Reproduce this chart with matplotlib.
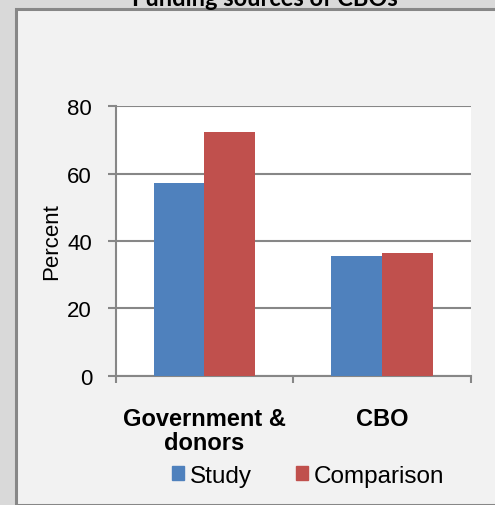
import matplotlib.pyplot as plt
import matplotlib.patches as mpatches
import numpy as np

categories = ['Government &\ndonors', 'CBO']
series_names = ['Study', 'Comparison']
study = [57.1, 35.6]
comparison = [72.5, 36.3]
y_ticks = [0, 20, 40, 60, 80]
title = 'Funding sources of CBOs'

W, H = 495, 506
fig = plt.figure(figsize=(W / 100, H / 100), dpi=100)
fig.patch.set_facecolor('#d9d9d9')

# inner chart area with border
panel = mpatches.Rectangle((15.5 / W, 0), 1.0, (H - 9.5) / H, transform=fig.transFigure,
                           facecolor='#f2f2f2', edgecolor='#878787', linewidth=2.2,
                           zorder=-5)
fig.patches.append(panel)

# title is clipped by the top edge, as in the original export
fig.text(265 / W, 1 + 1 / H, title, ha='center', va='center', fontsize=17,
         fontweight='bold', family='Lato')

ax = fig.add_axes([115.7 / W, 1 - 376.7 / H, 355 / W, 269.4 / H])
ax.set_facecolor('white')

colors = ['#4f81bd', '#c0504d']
bw = 0.285
x = np.arange(len(categories)) + 0.5
ax.bar(x - bw / 2, study, width=bw, color=colors[0], label=series_names[0], zorder=3)
ax.bar(x + bw / 2, comparison, width=bw, color=colors[1], label=series_names[1], zorder=3)

ax.set_xlim(0, len(categories))
ax.set_ylim(0, 80)
ax.set_yticks(y_ticks)
ax.set_yticklabels([str(t) for t in y_ticks], fontsize=16, family='Liberation Sans')
ax.set_xticks(np.arange(len(categories) + 1))
ax.set_xticklabels([])
ax.yaxis.grid(True, color='#878787', linewidth=1.5, zorder=1)
ax.set_axisbelow(True)

for s in ['top', 'right']:
    ax.spines[s].set_visible(False)
for s in ['left', 'bottom']:
    ax.spines[s].set_color('#878787')
    ax.spines[s].set_linewidth(1.5)
ax.tick_params(axis='y', length=6, width=1.5, color='#878787', pad=11)
ax.tick_params(axis='x', length=5, width=1.5, color='#878787')

ax.set_ylabel('Percent', fontsize=16, family='Liberation Sans')
ax.yaxis.set_label_coords(-0.151, 0.5)

for xi, lab in zip(x, categories):
    ax.text(xi, -9.2, lab, ha='center', va='top', fontsize=17, fontweight='bold',
            family='Liberation Sans', linespacing=1.1)

handles = [mpatches.Patch(color=c) for c in colors]
fig.legend(handles, series_names, loc='center', bbox_to_anchor=(308 / W, 1 - 477 / H),
           ncol=2, frameon=False, prop={'family': 'Liberation Sans', 'size': 17.5},
           handlelength=0.5, handleheight=0.5, handletextpad=0.25, columnspacing=1.8)

fig.savefig('out.png', dpi=100, facecolor=fig.get_facecolor())
